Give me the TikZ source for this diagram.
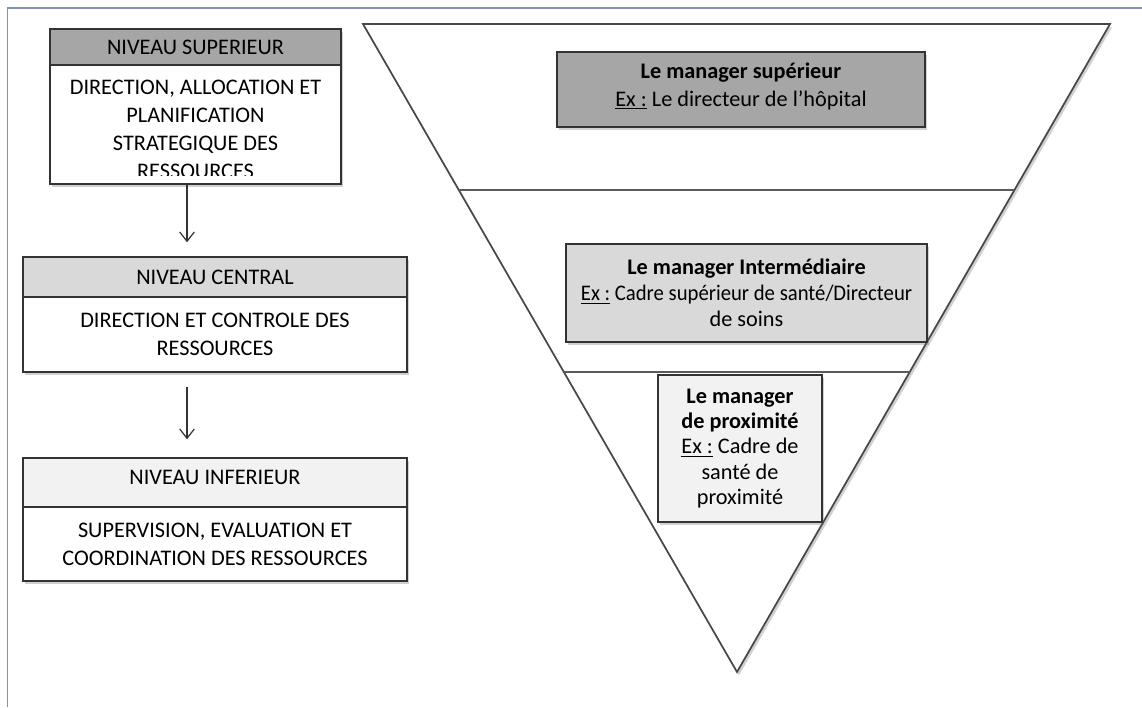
\documentclass[tikz,border=0pt]{standalone}
\usepackage{fontspec}
\usepackage{graphicx}
\setmainfont{Carlito}
\usetikzlibrary{shadows,arrows.meta,calc}
\definecolor{framecol}{HTML}{7F93B3}
\definecolor{gA}{HTML}{A6A6A6}
\definecolor{gB}{HTML}{D9D9D9}
\definecolor{gC}{HTML}{F2F2F2}
\definecolor{edgecol}{HTML}{333333}
\definecolor{tricol}{HTML}{484848}
\begin{document}
\begin{tikzpicture}[x=0.75pt,y=-0.75pt,
  font=\fontsize{16.7}{21}\selectfont,
  shad/.style={drop shadow={shadow xshift=1.5pt,shadow yshift=-2.5pt,opacity=0.3,fill=black!60}},
  boxx/.style={draw=edgecol,line width=1.1pt,inner sep=0pt,align=center,shad},
  txt/.style={inner sep=0pt,align=center,text=black},
  arr/.style={draw=edgecol,line width=0.9pt,-{Straight Barb[length=7pt,width=11pt]}},
  tri/.style={draw=tricol,line width=1.3pt,fill=white,line join=miter},
  divline/.style={draw=tricol!90,line width=1.1pt},
  framel/.style={draw=framecol,line width=1.2pt}]
\useasboundingbox (0,0) rectangle (1142,707);
\fill[white] (0,0) rectangle (1142,707);
% frame
\draw[framel] (7.5,707) -- (7.5,8) -- (1142,8);

% left column
\node[boxx,fill=gA,minimum width=291*0.75pt,minimum height=36*0.75pt] (h1) at (195.5,47) {NIVEAU SUPERIEUR};
\node[boxx,fill=white,minimum width=291*0.75pt,minimum height=119*0.75pt] (b1) at (195.5,124.5) {};
\begin{scope}
  \clip (50,65) rectangle (341,175.5);
  \node[txt] (b1t) at (195.5,129) {DIRECTION, ALLOCATION ET\\PLANIFICATION\\STRATEGIQUE DES\\RESSOURCES};
\end{scope}

\node[boxx,fill=gB,minimum width=384*0.75pt,minimum height=40*0.75pt] (h2) at (215,277) {NIVEAU CENTRAL};
\node[boxx,fill=white,minimum width=384*0.75pt,minimum height=75*0.75pt] (b2) at (215,334.5) {DIRECTION ET CONTROLE DES\\RESSOURCES};

\node[boxx,fill=gC,minimum width=384*0.75pt,minimum height=49*0.75pt] (h3) at (215,482.5) {};
\node[txt] (h3t) at (215,477) {NIVEAU INFERIEUR};
\node[boxx,fill=white,minimum width=384*0.75pt,minimum height=74*0.75pt] (b3) at (215,544) {SUPERVISION, EVALUATION ET\\COORDINATION DES RESSOURCES};

\coordinate (ax) at (187,0);
\draw[arr,shorten >=10.5pt] (b1.south -| ax) -- (h2.north -| ax);
\draw[arr,shorten <=10.5pt,shorten >=13.5pt] (b2.south -| ax) -- (h3.north -| ax);

% triangle
\coordinate (tl) at (363,24);
\coordinate (tr) at (1110,24);
\coordinate (ap) at (737,672);
\path[tri,shad] (tl) -- (tr) -- (ap) -- cycle;
\draw[divline] ($(tl)!0.2562!(ap)$) -- ($(tr)!0.2562!(ap)$);
\draw[divline] ($(tl)!0.537!(ap)$) -- ($(tr)!0.537!(ap)$);

\node[boxx,fill=gA,minimum width=368*0.75pt,minimum height=75*0.75pt] (mA) at (741,89.5) {};
\node[txt] (mAt) at (741,86) {\textbf{Le manager supérieur}\\\underline{Ex :} Le directeur de l’hôpital};

\node[boxx,fill=gB,minimum width=361*0.75pt,minimum height=98*0.75pt,font=\fontsize{16.7}{19.5}\selectfont] (mB) at (746.5,293) {\textbf{Le manager Intermédiaire}\\\scalebox{0.93}[1]{\underline{Ex :} Cadre supérieur de santé/Directeur}\\de soins};

\node[boxx,fill=gC,minimum width=164*0.75pt,minimum height=147*0.75pt,font=\fontsize{16.7}{19}\selectfont] (mC) at (740,448.5) {\textbf{Le manager}\\\textbf{de proximité}\\\underline{Ex :} Cadre de\\santé de\\proximité};
\end{tikzpicture}
\end{document}
